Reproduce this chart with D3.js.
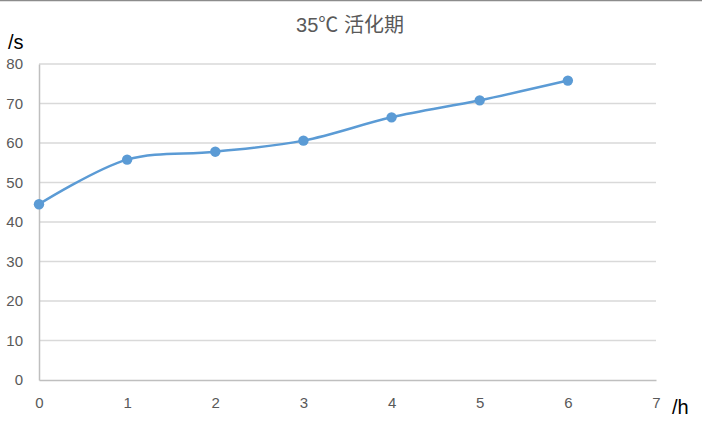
<!DOCTYPE html>
<html><head><meta charset="utf-8">
<script src="https://cdn.jsdelivr.net/npm/d3@7"></script>
<style>body{margin:0;background:#fff}svg{display:block}</style>
</head><body>
<script>
const hours = [0, 1, 2, 3, 4, 5, 6];
const seconds = [44.5, 55.8, 57.8, 60.6, 66.5, 70.8, 75.8];
const xTicks = [0, 1, 2, 3, 4, 5, 6, 7];
const yTicks = [0, 10, 20, 30, 40, 50, 60, 70, 80];
const title = "35℃ 活化期";

const W = 702, H = 425;
const svg = d3.select("body").append("svg").attr("width", W).attr("height", H);
svg.append("rect").attr("width", W).attr("height", H).attr("fill", "#fff");
svg.append("line").attr("x1", 0).attr("x2", W).attr("y1", 0.5).attr("y2", 0.5).attr("stroke", "#8c8c8c").attr("stroke-width", 1.5);

const x = d3.scaleLinear().domain([0, 7]).range([39, 656]);
const y = d3.scaleLinear().domain([0, 80]).range([380, 64]);
const font = "'Liberation Sans', Arial, sans-serif";

// gridlines
svg.append("g").selectAll("line").data(yTicks.filter(d => d > 0)).join("line")
  .attr("x1", x(0)).attr("x2", x(7)).attr("y1", d => y(d)).attr("y2", d => y(d))
  .attr("stroke", "#d9d9d9").attr("stroke-width", 1.3);

// y axis
const ya = svg.append("g").attr("transform", `translate(${x(0)},0)`)
  .attr("font-size", 15)
  .call(d3.axisLeft(y).tickValues(yTicks).tickFormat(d3.format("d")).tickSize(0).tickPadding(16));
ya.select(".domain").attr("stroke", "#bfbfbf").attr("stroke-width", 1.5);
ya.selectAll("text").attr("font-family", font).style("font-size", "15px").attr("fill", "#595959");

// x axis
const xa = svg.append("g").attr("transform", `translate(0,${y(0)})`)
  .call(d3.axisBottom(x).tickValues(xTicks).tickFormat(d3.format("d")).tickSize(0).tickPadding(17));
xa.select(".domain").attr("stroke", "#bfbfbf").attr("stroke-width", 1.5);
xa.selectAll("text").attr("font-family", font).style("font-size", "15px").attr("fill", "#595959");

// line
const data = hours.map((h, i) => [h, seconds[i]]);
svg.append("path").datum(data)
  .attr("d", d3.line().x(d => x(d[0])).y(d => y(d[1])).curve(d3.curveCatmullRom.alpha(0.5)))
  .attr("fill", "none").attr("stroke", "#5b9bd5").attr("stroke-width", 2.5);
svg.append("g").selectAll("circle").data(data).join("circle")
  .attr("cx", d => x(d[0])).attr("cy", d => y(d[1])).attr("r", 5.2).attr("fill", "#5b9bd5");

// title and axis labels
svg.append("text").attr("x", 350).attr("y", 32).attr("text-anchor", "middle")
  .attr("font-family", "'Liberation Sans', 'Noto Sans CJK SC', sans-serif").attr("font-size", 20).attr("fill", "#595959").text(title);
svg.append("text").attr("x", 8).attr("y", 49).attr("font-family", font).attr("font-size", 20).attr("fill", "#000").text("/s");
svg.append("text").attr("x", 672).attr("y", 414).attr("font-family", font).attr("font-size", 20).attr("fill", "#000").text("/h");
</script>
</body></html>
